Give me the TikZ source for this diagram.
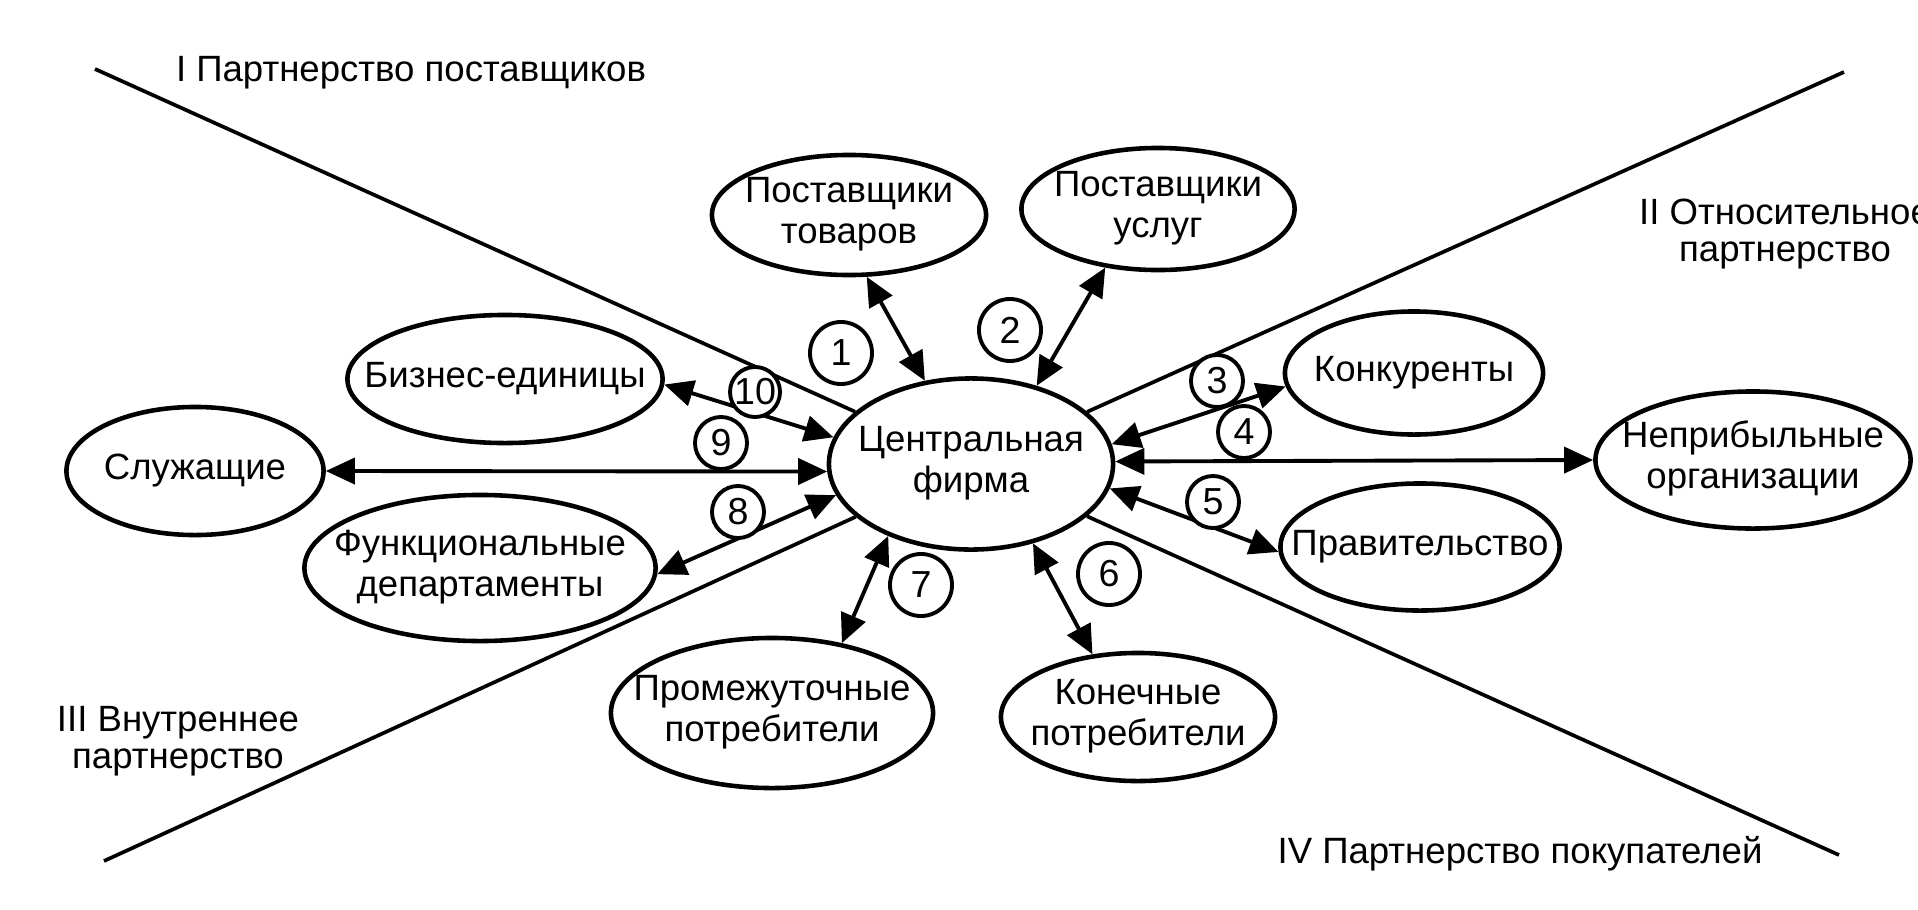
\documentclass[tikz,border=0pt]{standalone}
\usepackage{fontspec}
\setmainfont{Liberation Sans}
\usetikzlibrary{shapes.geometric, arrows.meta}

\newcommand{\ptext}[1]{\raisebox{-0.09cm}{\makebox[0pt]{\begin{tabular}{@{}c@{}}#1\end{tabular}}}}

\begin{document}
\begin{tikzpicture}[x=0.01cm, y=-0.01cm,
        party/.style={shape=ellipse, draw=black, fill=white, line width=1.3pt, inner sep=0pt,
            font=\fontsize{10.4}{11.7}\selectfont},
        num/.style={shape=circle, draw=black, fill=white, line width=1.1pt, inner sep=0pt,
            minimum size=0.52cm, font=\fontsize{10.7}{12}\selectfont},
        numbig/.style={num, minimum size=0.62cm},
        zone/.style={align=center, font=\fontsize{10.4}{10.5}\selectfont},
        link/.style={<->, >={Triangle[length=2.9mm, width=2.6mm]}, line width=1.1pt}]
        \useasboundingbox (0,0) rectangle (1918,909);

        % zones
        \coordinate (zI) at (95,69);
        \coordinate (zII) at (1844,72);
        \coordinate (zIII) at (104,861);
        \coordinate (zIV) at (1839,855);

        \node[party, minimum width=2.84cm, minimum height=1.71cm] (firm) at (971,464) {\ptext{Центральная\\фирма}};

        \draw[line width=1.05pt] (zI) -- (firm) (zII) -- (firm) (zIII) -- (firm) (zIV) -- (firm);

        \node[zone, anchor=base] (zoneI) at (411,81) {I Партнерство поставщиков};
        \node[zone] (zoneII) at (1785,234) {II Относительное\\партнерство};
        \node[zone] (zoneIII) at (178,741) {III Внутреннее\\партнерство};
        \node[zone, anchor=base] (zoneIV) at (1520,863) {IV Партнерство покупателей};

        % partners
        \node[party, minimum width=2.74cm, minimum height=1.20cm] (goods) at (849,215) {\ptext{Поставщики\\товаров}};
        \node[party, minimum width=2.73cm, minimum height=1.22cm] (services) at (1158,209) {\ptext{Поставщики\\услуг}};
        \node[party, minimum width=2.58cm, minimum height=1.23cm] (rivals) at (1414,373) {\ptext{Конкуренты}};
        \node[party, minimum width=3.15cm, minimum height=1.37cm] (nonprofit) at (1753,460) {\ptext{Неприбыльные\\организации}};
        \node[party, minimum width=2.79cm, minimum height=1.27cm] (gov) at (1420,547) {\ptext{Правительство}};
        \node[party, minimum width=2.74cm, minimum height=1.28cm] (endcons) at (1138,717) {\ptext{Конечные\\потребители}};
        \node[party, minimum width=3.22cm, minimum height=1.50cm] (midcons) at (772,713) {\ptext{Промежуточные\\потребители}};
        \node[party, minimum width=3.51cm, minimum height=1.46cm] (depts) at (480,568) {\ptext{Функциональные\\департаменты}};
        \node[party, minimum width=2.57cm, minimum height=1.28cm] (staff) at (195,471) {\ptext{Служащие}};
        \node[party, minimum width=3.15cm, minimum height=1.28cm] (units) at (505,379) {\ptext{Бизнес-единицы}};

        \path [link] (firm.119.5) edge (goods.-74.9);
        \path [link] (firm.50.1) edge (services.228.5);
        \path [link] (firm.8.5) edge (rivals.186.3);
        \path [link] (firm.1.6) edge (nonprofit.180);
        \path [link] (firm.-10.5) edge (gov.182);
        \path [link] (firm.-52.6) edge (endcons.126.9);
        \path [link] (firm.221.8) edge (midcons.45.9);
        \path [link] (firm.193.4) edge (depts.-2.9);
        \path [link] (firm.183.2) edge (staff.0);
        \path [link] (firm.169.8) edge (units.-2.2);

        \node[numbig] (n1) at (841,353) {1};
        \node[numbig] (n2) at (1010,330) {2};
        \node[num] (n3) at (1217,381) {3};
        \node[num] (n4) at (1244,432) {4};
        \node[num] (n5) at (1213,502) {5};
        \node[numbig] (n6) at (1109,574) {6};
        \node[numbig] (n7) at (921,585) {7};
        \node[num] (n8) at (738,512) {8};
        \node[num] (n9) at (721,443) {9};
        \node[num, minimum size=0.50cm] (n10) at (755,392) {10};
    \end{tikzpicture}
\end{document}
